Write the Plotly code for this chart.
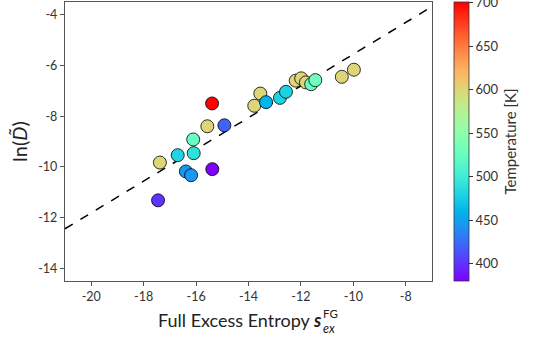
import numpy as np
import plotly.graph_objects as go

# ---- data ----
s_ex = [-17.38, -17.45, -16.70, -16.39, -16.19, -16.09, -16.11, -15.57, -15.39, -15.38,
        -14.92, -13.78, -13.55, -13.33, -12.80, -12.57, -12.20, -11.99, -11.81, -11.61,
        -11.45, -10.44, -9.98]
ln_D = [-9.83, -11.32, -9.54, -10.18, -10.33, -9.46, -8.92, -8.40, -7.50, -10.09,
        -8.36, -7.59, -7.11, -7.45, -7.28, -7.04, -6.60, -6.51, -6.67, -6.74,
        -6.58, -6.45, -6.17]
temperature = [600, 400, 480, 445, 445, 490, 525, 600, 700, 380,
               420, 600, 600, 460, 478, 478, 600, 600, 600, 525,
               530, 600, 600]
fit_x = [-21.0, -7.0]
fit_y = [-12.44, -3.68]
x_ticks = [-20, -18, -16, -14, -12, -10, -8]
x_tick_labels = ["-20", "-18", "-16", "-14", "-12", "-10", "-8"]
y_ticks = [-14, -12, -10, -8, -6, -4]
y_tick_labels = ["-14", "-12", "-10", "-8", "-6", "-4"]
cbar_ticks = [400, 450, 500, 550, 600, 650, 700]

# matplotlib "rainbow" colormap
def rainbow(t):
    r = abs(2 * t - 0.5)
    g = np.sin(np.pi * t)
    b = np.cos(np.pi * t / 2)
    c = [min(1, max(0, v)) for v in (r, g, b)]
    return "rgb(%d,%d,%d)" % tuple(round(v * 255) for v in c)

cscale = [[t, rainbow(t)] for t in np.linspace(0, 1, 33)]

FONT = "Lato"
fig = go.Figure()
fig.add_trace(go.Scatter(x=fit_x, y=fit_y, mode="lines",
                         line=dict(color="black", width=1.5, dash="dash"),
                         showlegend=False, hoverinfo="skip"))
fig.add_trace(go.Scatter(
    x=s_ex, y=ln_D, mode="markers", showlegend=False,
    marker=dict(size=13, color=temperature, colorscale=cscale, cmin=380, cmax=701,
                line=dict(color="black", width=0.8), opacity=1,
                colorbar=dict(x=1.06, xanchor="left", xpad=0, y=0.5, yanchor="middle",
                              len=1, lenmode="fraction", ypad=0, thickness=15,
                              outlinewidth=0.8, outlinecolor="#333",
                              tickvals=cbar_ticks, ticks="outside", ticklen=4,
                              ticklabeloverflow="allow",
                              tickcolor="#333", tickfont=dict(size=13, color="#333", family=FONT),
                              title=dict(text="Temperature [K]", side="right",
                                         font=dict(size=15, color="#333", family=FONT))))))

axis_common = dict(showgrid=False, zeroline=False, showline=True, linecolor="#555",
                   linewidth=1.3, mirror=True, ticks="outside", ticklen=4,
                   tickcolor="#555", tickfont=dict(size=12.5, color="#333", family=FONT))
fig.update_xaxes(range=[-21, -7], tickvals=x_ticks, ticktext=x_tick_labels, **axis_common)
fig.update_yaxes(range=[-14.5, -3.5], tickvals=y_ticks, ticktext=y_tick_labels,
                 title=dict(text="ln(<i>D\u0303</i>)", font=dict(size=20, color="#222", family=FONT),
                            standoff=5), **axis_common)

H = 279.0
def ypos(px):
    return (281 - px) / H
xr = (324 - 65) / 367.0
fig.add_annotation(text="Full Excess Entropy <b><i>s</i></b>", xref="paper", yref="paper",
                   x=xr, y=ypos(320), xanchor="right", yanchor="middle", showarrow=False,
                   font=dict(size=18, color="#222", family=FONT))
fig.add_annotation(text="FG", xref="paper", yref="paper", xshift=-2, borderpad=0,
                   x=xr, y=ypos(313), xanchor="left", yanchor="middle", showarrow=False,
                   font=dict(size=11.5, color="#222", family=FONT))
fig.add_annotation(text="<i>ex</i>", xref="paper", yref="paper", xshift=-2, borderpad=0,
                   x=xr, y=ypos(328), xanchor="left", yanchor="middle", showarrow=False,
                   font=dict(size=12.5, color="#222", family=FONT))

fig.update_layout(width=540, height=337, margin=dict(l=65, r=108, t=2, b=56),
                  plot_bgcolor="white", paper_bgcolor="white",
                  font=dict(family=FONT))
fig.write_html("out.html")
